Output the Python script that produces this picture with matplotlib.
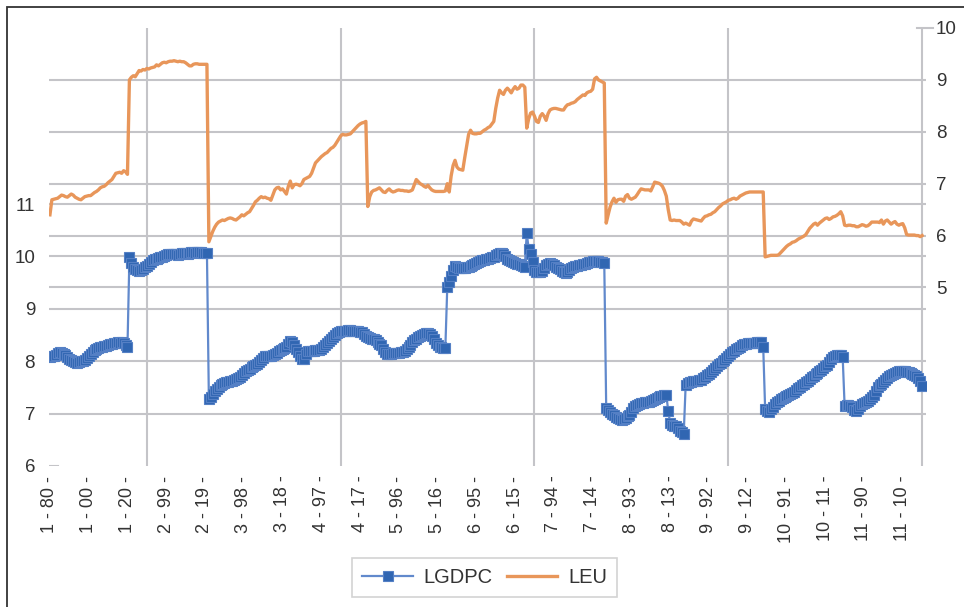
import matplotlib.pyplot as plt
from matplotlib.patches import Rectangle
import numpy as np

# panel: country id 1..11, each with years 1980..2020
countries = list(range(1, 12))
years = list(range(1980, 2021))

# LGDPC (left axis), one line per country
lgdpc = [
    8.08, 8.10, 8.09, 8.12, 8.15, 8.17, 8.16, 8.14, 8.11, 8.08, 8.05, 8.02, 8.00, 7.98, 7.97, 7.98, 8.00, 8.01, 8.03, 8.06, 8.09, 8.13, 8.18, 8.22, 8.24, 8.25, 8.27, 8.28, 8.29, 8.29, 8.31, 8.32, 8.33, 8.34, 8.35, 8.36, 8.35, 8.37, 8.34, 8.30, 8.27,
    9.98, 9.88, 9.80, 9.76, 9.74, 9.72, 9.74, 9.76, 9.79, 9.82, 9.85, 9.90, 9.93, 9.96, 9.95, 9.97, 9.98, 9.99, 10.00, 10.02, 10.04, 10.05, 10.04, 10.05, 10.04, 10.03, 10.04, 10.06, 10.07, 10.06, 10.05, 10.06, 10.08, 10.08, 10.07, 10.08, 10.08, 10.08, 10.07, 10.07, 10.07,
    7.28, 7.32, 7.38, 7.43, 7.47, 7.51, 7.54, 7.56, 7.58, 7.60, 7.61, 7.62, 7.63, 7.64, 7.66, 7.68, 7.70, 7.73, 7.77, 7.81, 7.84, 7.86, 7.88, 7.90, 7.92, 7.95, 7.99, 8.03, 8.07, 8.09, 8.10, 8.10, 8.10, 8.11, 8.13, 8.16, 8.19, 8.22, 8.24, 8.25, 8.28,
    8.33, 8.38, 8.36, 8.30, 8.24, 8.18, 8.10, 8.04, 8.05, 8.14, 8.20, 8.20, 8.19, 8.20, 8.21, 8.22, 8.22, 8.24, 8.27, 8.30, 8.34, 8.38, 8.42, 8.46, 8.50, 8.53, 8.55, 8.57, 8.58, 8.58, 8.58, 8.59, 8.59, 8.58, 8.58, 8.58, 8.57, 8.56, 8.55, 8.52, 8.48,
    8.46, 8.44, 8.43, 8.42, 8.40, 8.37, 8.33, 8.30, 8.24, 8.17, 8.14, 8.14, 8.14, 8.15, 8.15, 8.15, 8.16, 8.17, 8.18, 8.20, 8.23, 8.27, 8.31, 8.36, 8.40, 8.43, 8.46, 8.48, 8.50, 8.52, 8.53, 8.53, 8.52, 8.49, 8.42, 8.35, 8.30, 8.28, 8.27, 8.26, 8.25,
    9.42, 9.52, 9.63, 9.74, 9.82, 9.80, 9.78, 9.77, 9.77, 9.78, 9.79, 9.80, 9.82, 9.84, 9.86, 9.88, 9.90, 9.91, 9.93, 9.94, 9.95, 9.96, 9.97, 9.98, 9.99, 10.02, 10.04, 10.06, 10.06, 10.04, 10.00, 9.95, 9.93, 9.91, 9.90, 9.88, 9.86, 9.85, 9.83, 9.82, 9.80,
    10.44, 10.15, 10.05, 9.90, 9.75, 9.70, 9.70, 9.71, 9.73, 9.78, 9.83, 9.86, 9.87, 9.85, 9.83, 9.80, 9.78, 9.76, 9.73, 9.70, 9.68, 9.70, 9.74, 9.77, 9.80, 9.81, 9.82, 9.83, 9.84, 9.85, 9.86, 9.88, 9.89, 9.90, 9.91, 9.92, 9.92, 9.91, 9.90, 9.89, 9.87,
    7.10, 7.07, 7.04, 7.00, 6.97, 6.93, 6.91, 6.90, 6.88, 6.89, 6.92, 6.95, 6.98, 7.04, 7.10, 7.14, 7.17, 7.19, 7.20, 7.21, 7.22, 7.22, 7.23, 7.24, 7.26, 7.28, 7.29, 7.31, 7.33, 7.34, 7.35, 7.36, 7.05, 6.82, 6.78, 6.77, 6.76, 6.72, 6.66, 6.64, 6.62,
    7.55, 7.58, 7.60, 7.61, 7.62, 7.63, 7.63, 7.64, 7.65, 7.67, 7.70, 7.73, 7.76, 7.79, 7.83, 7.87, 7.91, 7.94, 7.97, 8.00, 8.03, 8.06, 8.09, 8.13, 8.17, 8.20, 8.23, 8.25, 8.28, 8.30, 8.32, 8.33, 8.34, 8.34, 8.35, 8.35, 8.35, 8.36, 8.37, 8.36, 8.28,
    7.08, 7.05, 7.04, 7.08, 7.13, 7.18, 7.22, 7.25, 7.28, 7.30, 7.32, 7.34, 7.36, 7.38, 7.40, 7.42, 7.45, 7.48, 7.51, 7.54, 7.57, 7.60, 7.63, 7.66, 7.69, 7.72, 7.75, 7.78, 7.81, 7.84, 7.87, 7.90, 7.93, 7.98, 8.04, 8.08, 8.10, 8.11, 8.12, 8.11, 8.08,
    7.15, 7.16, 7.16, 7.15, 7.12, 7.06, 7.05, 7.08, 7.14, 7.18, 7.20, 7.22, 7.25, 7.28, 7.31, 7.36, 7.44, 7.50, 7.54, 7.57, 7.61, 7.65, 7.68, 7.71, 7.74, 7.76, 7.78, 7.80, 7.81, 7.81, 7.81, 7.81, 7.80, 7.79, 7.78, 7.76, 7.74, 7.71, 7.67, 7.62, 7.53,
]

# LEU (right axis)
leu = [
    6.40, 6.69, 6.70, 6.71, 6.72, 6.75, 6.78, 6.77, 6.75, 6.74, 6.77, 6.80, 6.78, 6.74, 6.72, 6.70, 6.69, 6.72, 6.75, 6.76, 6.77, 6.77, 6.80, 6.83, 6.85, 6.88, 6.92, 6.94, 6.95, 6.98, 7.02, 7.05, 7.08, 7.14, 7.20, 7.21, 7.22, 7.20, 7.25, 7.23, 7.18,
    9.00, 9.05, 9.08, 9.06, 9.12, 9.18, 9.17, 9.20, 9.19, 9.22, 9.21, 9.23, 9.24, 9.25, 9.29, 9.27, 9.30, 9.33, 9.34, 9.33, 9.35, 9.36, 9.36, 9.37, 9.36, 9.35, 9.36, 9.35, 9.35, 9.33, 9.30, 9.27, 9.27, 9.30, 9.31, 9.31, 9.30, 9.30, 9.30, 9.30, 9.30,
    5.88, 5.98, 6.08, 6.16, 6.22, 6.26, 6.28, 6.30, 6.29, 6.31, 6.33, 6.34, 6.33, 6.31, 6.30, 6.33, 6.36, 6.40, 6.38, 6.41, 6.44, 6.46, 6.52, 6.58, 6.65, 6.68, 6.72, 6.75, 6.73, 6.74, 6.72, 6.71, 6.68, 6.78, 6.88, 6.92, 6.93, 6.88, 6.90, 6.85, 6.80,
    6.95, 7.05, 6.92, 6.98, 6.99, 6.98, 6.96, 7.00, 7.08, 7.10, 7.12, 7.14, 7.20, 7.30, 7.40, 7.44, 7.48, 7.52, 7.55, 7.58, 7.60, 7.64, 7.68, 7.70, 7.74, 7.80, 7.86, 7.92, 7.95, 7.94, 7.94, 7.95, 7.96, 8.00, 8.04, 8.08, 8.12, 8.15, 8.17, 8.18, 8.20,
    6.56, 6.75, 6.84, 6.87, 6.88, 6.90, 6.92, 6.88, 6.84, 6.83, 6.87, 6.90, 6.86, 6.84, 6.85, 6.87, 6.88, 6.87, 6.87, 6.86, 6.86, 6.85, 6.86, 6.88, 6.98, 7.08, 7.04, 7.00, 6.98, 6.95, 6.93, 6.97, 6.92, 6.88, 6.86, 6.85, 6.85, 6.85, 6.85, 6.85, 6.86,
    7.00, 6.84, 7.15, 7.35, 7.45, 7.32, 7.28, 7.27, 7.26, 7.50, 7.72, 7.95, 8.03, 7.97, 7.96, 7.96, 7.97, 7.97, 8.00, 8.03, 8.05, 8.08, 8.10, 8.15, 8.20, 8.45, 8.65, 8.80, 8.75, 8.72, 8.80, 8.84, 8.80, 8.75, 8.82, 8.87, 8.82, 8.84, 8.90, 8.90, 8.86,
    8.07, 8.25, 8.36, 8.38, 8.30, 8.20, 8.18, 8.30, 8.35, 8.30, 8.22, 8.35, 8.42, 8.44, 8.45, 8.45, 8.44, 8.43, 8.42, 8.42, 8.48, 8.52, 8.53, 8.55, 8.56, 8.58, 8.62, 8.65, 8.68, 8.71, 8.70, 8.75, 8.77, 8.78, 8.82, 9.02, 9.05, 9.00, 8.98, 8.96, 8.94,
    6.24, 6.40, 6.55, 6.65, 6.72, 6.64, 6.69, 6.70, 6.70, 6.66, 6.76, 6.79, 6.72, 6.70, 6.72, 6.74, 6.79, 6.85, 6.90, 6.89, 6.88, 6.88, 6.88, 6.86, 6.94, 7.03, 7.02, 7.01, 6.99, 6.95, 6.87, 6.76, 6.50, 6.30, 6.29, 6.30, 6.29, 6.29, 6.29, 6.26, 6.22,
    6.24, 6.22, 6.20, 6.28, 6.32, 6.31, 6.30, 6.29, 6.28, 6.33, 6.37, 6.38, 6.40, 6.41, 6.44, 6.46, 6.50, 6.54, 6.57, 6.61, 6.63, 6.65, 6.68, 6.69, 6.71, 6.72, 6.70, 6.72, 6.76, 6.78, 6.80, 6.82, 6.83, 6.84, 6.84, 6.84, 6.84, 6.84, 6.84, 6.84, 6.84,
    5.59, 5.60, 5.61, 5.62, 5.62, 5.62, 5.62, 5.63, 5.67, 5.71, 5.75, 5.79, 5.82, 5.84, 5.87, 5.88, 5.90, 5.93, 5.95, 5.97, 5.99, 6.02, 6.08, 6.14, 6.18, 6.22, 6.24, 6.20, 6.24, 6.27, 6.30, 6.33, 6.34, 6.31, 6.33, 6.36, 6.37, 6.39, 6.42, 6.46, 6.38,
    6.20, 6.19, 6.20, 6.20, 6.19, 6.19, 6.17, 6.17, 6.19, 6.21, 6.20, 6.18, 6.19, 6.22, 6.26, 6.26, 6.26, 6.26, 6.25, 6.30, 6.22, 6.28, 6.30, 6.26, 6.22, 6.25, 6.27, 6.22, 6.20, 6.22, 6.23, 6.15, 6.02, 6.01, 6.01, 6.01, 6.01, 6.00, 6.00, 5.98, 6.00,
]

assert len(lgdpc) == len(leu) == len(countries) * len(years)

labels = [f"{c} - {y % 100:02d} -" for c in countries for y in years]
x = np.arange(len(labels))

plt.rcParams["font.family"] = ["Liberation Sans", "DejaVu Sans"]
text_c = "#333333"
grid_c = "#c4c4c8"

fig = plt.figure(figsize=(9.64, 6.07), dpi=100)
ax = fig.add_axes([0.0508, 0.2323, 0.9098, 0.7216])
ax2 = ax.twinx()
# right-axis grid goes underneath, lines sit on the front axes
ax.set_zorder(2)
ax2.set_zorder(1)
ax.patch.set_visible(False)

ax.set_xlim(-0.5, 452)
ax.set_ylim(6, 14.36)
ax2.set_ylim(1.56, 10)

l2, = ax.plot(x, leu, color="#E8965A", lw=2.4, transform=ax2.transData,
              solid_joinstyle="round", zorder=3)
l1, = ax.plot(x, lgdpc, color="#6189CC", lw=1.6, marker="s", ms=6.5,
              mfc="#3066B2", mec="#5580C5", mew=0.8, zorder=4)

ax.set_xticks(x[::20])
ax.set_xticklabels(labels[::20], rotation=90, fontsize=13, color=text_c)
ax.set_xticks(np.arange(50, len(x), 50), minor=True)
ax.tick_params(axis="x", which="both", length=0, pad=7)
ax.grid(True, axis="x", which="minor", color=grid_c, lw=1.5)

ax.set_yticks(range(6, 12))
ax.tick_params(axis="y", length=0, pad=10, labelsize=13.5, labelcolor=text_c)
ax.grid(True, axis="y", which="major", color=grid_c, lw=1.5)
ax.get_ygridlines()[0].set_visible(False)
ax.axhline(6, 0, 0.01, color=grid_c, lw=1.5)
ax.set_axisbelow(True)

ax2.set_yticks(range(5, 11))
ax2.tick_params(axis="y", length=0, pad=7, labelsize=13.5, labelcolor=text_c)
ax2.grid(True, axis="y", color=grid_c, lw=1.5)
ax2.get_ygridlines()[-1].set_visible(False)
ax2.axhline(10, 0.99, 1.008, color=grid_c, lw=1.5, clip_on=False)

for a in (ax, ax2):
    for s in a.spines.values():
        s.set_visible(False)

leg = fig.legend([l1, l2], ["LGDPC", "LEU"], loc="center",
                 bbox_to_anchor=(0.503, 0.048), ncol=2, numpoints=1,
                 fontsize=14.5, frameon=True, fancybox=False,
                 edgecolor="#c8c8c8", handlelength=2.5, handletextpad=0.55,
                 columnspacing=0.7, borderpad=0.5)
leg.get_frame().set_linewidth(1.2)
for t in leg.get_texts():
    t.set_color(text_c)

# outer border of the chart box
fig.add_artist(Rectangle((7 / 964, -0.1), 1.2, 1.1 - 7 / 607,
                         transform=fig.transFigure, fill=False,
                         edgecolor="#333333", lw=1.3))

fig.savefig("out.png", dpi=100)
